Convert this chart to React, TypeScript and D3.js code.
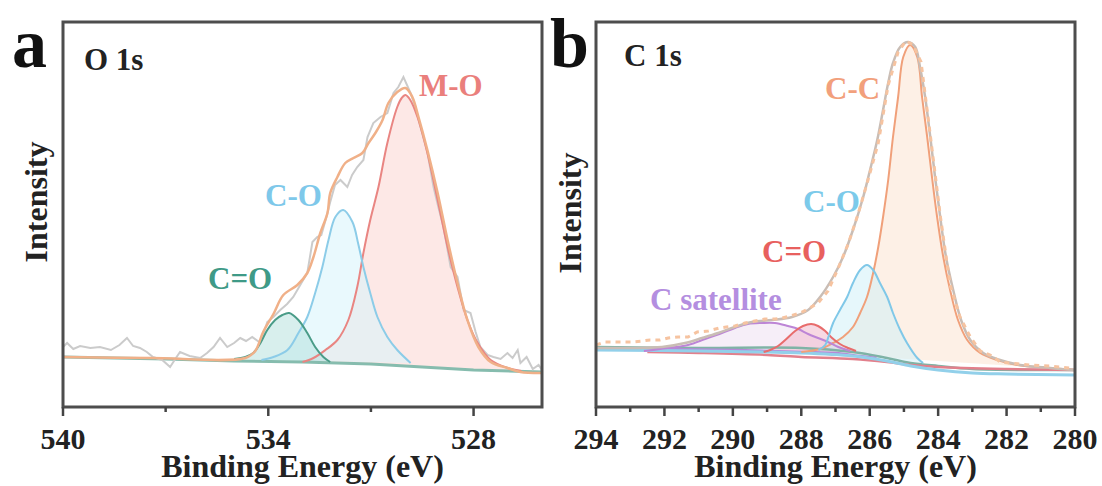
import React from 'react';
import * as d3 from 'd3';

type P = [number, number];

// ---------- Panel a : O 1s ----------
const oMajorTicks = [540, 534, 528];
const oMinorTicks = [537, 531];
const oBackground: P[] = [[540, 50], [537, 48], [535, 46], [533, 45], [531, 43], [529.5, 40], [528, 37], [526, 35]];
const oMO: P[] = [[533.0, 45], [532.68, 49], [532.33, 57], [531.98, 67], [531.66, 87], [531.40, 120], [531.22, 154], [531.02, 187], [530.78, 220], [530.52, 264], [530.23, 300], [530.1, 309], [529.99, 312], [529.85, 307], [529.64, 290], [529.35, 254], [529.05, 207], [528.76, 160], [528.47, 120], [528.18, 87], [527.88, 64], [527.5, 47], [527.0, 39], [526.6, 36]];
const oCO: P[] = [[534.2, 47], [533.85, 50], [533.44, 57], [533.12, 74], [532.86, 90], [532.63, 114], [532.42, 140], [532.24, 167], [532.04, 190], [531.81, 197], [531.54, 185], [531.37, 163], [531.22, 140], [531.02, 114], [530.81, 90], [530.52, 70], [530.23, 57], [529.84, 44]];
const oCeqO: P[] = [[535.0, 48], [534.67, 50], [534.44, 54], [534.23, 64], [534.03, 77], [533.8, 87], [533.59, 92], [533.39, 94], [533.12, 87], [532.86, 74], [532.63, 60], [532.39, 50], [532.19, 45]];
const oEnvelope: P[] = [[540, 50], [537.45, 49], [534.67, 49], [534.38, 56], [534.15, 75], [533.85, 93], [533.56, 112], [533.15, 122], [532.86, 134], [532.68, 150], [532.48, 174], [532.27, 194], [532.19, 214], [531.98, 230], [531.75, 244], [531.51, 249], [531.25, 254], [531.07, 264], [530.87, 274], [530.66, 287], [530.49, 304], [530.23, 315], [529.99, 319], [529.79, 310], [529.61, 290], [529.35, 257], [529.05, 214], [528.76, 167], [528.47, 124], [528.18, 87], [527.86, 60], [527.5, 45], [527.01, 39], [526.63, 35], [526.0, 34]];
const oRaw: P[] = [[540.0, 60], [539.88, 64], [539.7, 58], [539.5, 61], [539.2, 59], [538.92, 60], [538.6, 57], [538.35, 62], [538.13, 69], [537.95, 61], [537.75, 59], [537.55, 55], [537.37, 50], [537.1, 47], [536.87, 40], [536.7, 49], [536.58, 55], [536.3, 51], [535.99, 49], [535.79, 54], [535.6, 60], [535.41, 69], [535.2, 60], [535.0, 64], [534.82, 69], [534.65, 66], [534.47, 70], [534.23, 64], [534.03, 85], [533.85, 90], [533.65, 97], [533.45, 103], [533.27, 110], [533.1, 120], [532.86, 134], [532.71, 165], [532.57, 170], [532.45, 172], [532.3, 190], [532.19, 205], [532.05, 222], [531.89, 227], [531.69, 220], [531.55, 232], [531.4, 240], [531.22, 247], [531.1, 270], [530.93, 284], [530.72, 290], [530.52, 294], [530.34, 314], [530.2, 320], [530.05, 330], [529.84, 314], [529.7, 300], [529.55, 280], [529.35, 255], [529.17, 220], [529.03, 200], [528.88, 180], [528.67, 140], [528.47, 130], [528.29, 97], [528.09, 94], [527.94, 75], [527.8, 60], [527.59, 52], [527.42, 50], [527.21, 48], [527.01, 54], [526.86, 49], [526.71, 57], [526.63, 44], [526.45, 50], [526.27, 38], [526.1, 42], [526.0, 37]];

// ---------- Panel b : C 1s ----------
const cMajorTicks = [294, 292, 290, 288, 286, 284, 282, 280];
const cMinorTicks = [293, 291, 289, 287, 285, 283, 281];
const cBgTeal: P[] = [[294, 60], [291, 59], [288, 59], [286.5, 55], [285.5, 49], [284.8, 44], [284, 41], [283, 38], [280, 37]];
const cBgBlue: P[] = [[294, 57], [291, 56], [288, 54], [286.5, 51], [285.5, 46], [284.8, 41], [284, 37], [283, 34], [282, 33], [280, 32]];
const cBgRed: P[] = [[292.5, 55], [291, 54], [289, 52], [288, 50], [286.5, 48], [285.5, 45], [284.8, 42], [284, 40], [282, 38], [280, 37]];
const cBgPurple: P[] = [[292.5, 58], [290, 57], [288, 55], [287, 54], [286.3, 51], [285.8, 49]];
const cCC: P[] = [[288.0, 55], [287.45, 58], [287.07, 64], [286.78, 70], [286.49, 80], [286.28, 94], [286.08, 110], [285.9, 134], [285.75, 160], [285.61, 190], [285.46, 227], [285.32, 270], [285.17, 310], [285.02, 350], [284.82, 362], [284.61, 350], [284.47, 310], [284.32, 270], [284.18, 230], [284.03, 190], [283.85, 150], [283.65, 117], [283.42, 87], [283.15, 67], [282.77, 54], [282.27, 47], [281.69, 42], [280.73, 39], [280.0, 37]];
const cCO: P[] = [[287.5, 57], [287.3, 62], [287.19, 72], [287.07, 84], [286.87, 97], [286.66, 110], [286.49, 124], [286.28, 137], [286.08, 142], [285.9, 137], [285.7, 124], [285.49, 110], [285.32, 94], [285.11, 77], [284.91, 64], [284.61, 49], [284.44, 44]];
const cCeqO: P[] = [[289.1, 55], [288.91, 57], [288.68, 61], [288.47, 67], [288.18, 76], [287.95, 81], [287.71, 83], [287.51, 81], [287.3, 76], [287.1, 69], [286.87, 63], [286.63, 59], [286.4, 56]];
const cSat: P[] = [[292.6, 56], [292.13, 58], [291.31, 62], [290.81, 68], [290.32, 74], [289.94, 79], [289.56, 83], [289.15, 84], [288.77, 84], [288.39, 81], [288.09, 78], [287.8, 73], [287.51, 69], [287.22, 65], [286.92, 60], [286.57, 56]];
const cEnvelope: P[] = [[294.0, 59], [293.06, 59], [292.07, 60], [291.4, 64], [290.9, 69], [290.43, 74], [289.94, 80], [289.44, 85], [288.85, 87], [288.27, 90], [287.8, 97], [287.45, 110], [287.07, 130], [286.78, 150], [286.49, 177], [286.19, 210], [285.99, 237], [285.78, 267], [285.61, 297], [285.46, 324], [285.32, 344], [285.11, 360], [284.88, 365], [284.67, 360], [284.53, 340], [284.38, 310], [284.23, 270], [284.09, 230], [283.94, 190], [283.77, 150], [283.56, 117], [283.33, 87], [283.06, 67], [282.68, 54], [282.19, 47], [281.6, 42], [280.73, 39], [280.0, 37]];
const cRaw: P[] = [[294.0, 62], [293.74, 65], [293.44, 65], [292.95, 65], [292.65, 66], [292.42, 67], [292.13, 67], [291.89, 69], [291.6, 70], [291.31, 70], [291.04, 75], [290.72, 76], [290.39, 79], [290.19, 80], [289.94, 81], [289.65, 84], [289.36, 86], [289.06, 88], [288.77, 88], [288.56, 89], [288.33, 91], [288.04, 94], [287.8, 98], [287.51, 104], [287.22, 116], [286.93, 138], [286.63, 163], [286.34, 193], [286.05, 227], [285.75, 264], [285.46, 322], [285.17, 355], [284.94, 366], [284.73, 362], [284.5, 345], [284.23, 272], [283.94, 192], [283.65, 122], [283.36, 90], [283.06, 70], [282.77, 56], [282.48, 52], [282.18, 45], [281.89, 44], [281.6, 43], [281.3, 42], [280.73, 41], [280.15, 39]];

// ---------- layout ----------
const TOP = 22;
const BOTTOM = 407;
const FONT = 'Liberation Serif';
const yScale = d3.scaleLinear().domain([0, 385]).range([BOTTOM, TOP]);
const xA = d3.scaleLinear().domain([540, 526]).range([63, 542]);
const xB = d3.scaleLinear().domain([294, 280]).range([596, 1075]);

type Scale = d3.ScaleLinear<number, number>;

function smooth(x: Scale, pts: P[]): string {
  return d3.line<P>().x(d => x(d[0])).y(d => yScale(d[1])).curve(d3.curveCatmullRom.alpha(0.5))(pts) || '';
}
function straight(x: Scale, pts: P[]): string {
  return d3.line<P>().x(d => x(d[0])).y(d => yScale(d[1]))(pts) || '';
}

function T(props: { x?: number; y?: number; size: number; fill?: string; anchor?: string; transform?: string; children: React.ReactNode }) {
  return (
    <text x={props.x} y={props.y} transform={props.transform} fontFamily={FONT} fontWeight="bold" fontSize={props.size} fill={props.fill || '#222'} textAnchor={props.anchor || 'start'}>
      {props.children}
    </text>
  );
}

function Frame({ x, major, minor }: { x: Scale; major: number[]; minor: number[] }) {
  const [x0, x1] = x.range();
  return (
    <g>
      <rect x={x0} y={TOP} width={x1 - x0} height={BOTTOM - TOP} fill="none" stroke="#4d4d4d" strokeWidth={3} />
      {major.map(t => (
        <line key={'M' + t} x1={x(t)} x2={x(t)} y1={BOTTOM} y2={BOTTOM + 9} stroke="#444" strokeWidth={2.5} />
      ))}
      {minor.map(t => (
        <line key={'m' + t} x1={x(t)} x2={x(t)} y1={BOTTOM} y2={BOTTOM + 5} stroke="#444" strokeWidth={2.5} />
      ))}
      {major.map(t => (
        <T key={'L' + t} x={x(t)} y={449} size={30} anchor="middle">{String(t)}</T>
      ))}
      <T x={(x0 + x1) / 2} y={477} size={32} anchor="middle">Binding Energy (eV)</T>
    </g>
  );
}

export default function App() {
  return (
    <svg width={1102} height={486} fontFamily={FONT} style={{ position: 'absolute', left: 0, top: 0, background: '#fff', fontFamily: FONT }}>
      <rect width={1102} height={486} fill="#fff" />

      {/* Panel a */}
      <g>
        <path d={smooth(xA, oMO) + 'Z'} fill="#fbd9d6" fillOpacity={0.6} />
        <path d={smooth(xA, oCO) + 'Z'} fill="#d7f4fb" fillOpacity={0.55} />
        <path d={smooth(xA, oCeqO) + 'Z'} fill="#a8dbd6" fillOpacity={0.45} />
        <path d={straight(xA, oBackground)} fill="none" stroke="#86bcae" strokeWidth={3} />
        <path d={straight(xA, oRaw)} fill="none" stroke="#cbcbcb" strokeWidth={2} />
        <path d={smooth(xA, oMO)} fill="none" stroke="#e98582" strokeWidth={2} />
        <path d={smooth(xA, oCO)} fill="none" stroke="#8ccce8" strokeWidth={2} />
        <path d={smooth(xA, oCeqO)} fill="none" stroke="#4a9c88" strokeWidth={2} />
        <path d={smooth(xA, oEnvelope)} fill="none" stroke="#f0b088" strokeWidth={2.5} />
        <Frame x={xA} major={oMajorTicks} minor={oMinorTicks} />
        <T x={12} y={67} size={70} fill="#111">a</T>
        <T x={84} y={70} size={31}>O 1s</T>
        <T transform="translate(47,202) rotate(-90)" size={32} anchor="middle">Intensity</T>
        <T x={419} y={96} size={31} fill="#ea7f7c">M-O</T>
        <T x={265} y={206} size={31} fill="#7ec8ea">C-O</T>
        <T x={208} y={289} size={31} fill="#3f9a87">C=O</T>
      </g>

      {/* Panel b */}
      <g>
        <path d={smooth(xB, cCC) + 'Z'} fill="#fbe3d2" fillOpacity={0.55} />
        <path d={smooth(xB, cSat) + 'Z'} fill="#f0e3f3" fillOpacity={0.6} />
        <path d={smooth(xB, cCeqO) + 'Z'} fill="#efb3c8" fillOpacity={0.5} />
        <path d={smooth(xB, cCO) + 'Z'} fill="#cdeff8" fillOpacity={0.5} />
        <path d={smooth(xB, cBgTeal)} fill="none" stroke="#7fb3a6" strokeWidth={2.5} />
        <path d={smooth(xB, cBgPurple)} fill="none" stroke="#b58ad8" strokeWidth={2.5} />
        <path d={smooth(xB, cBgRed)} fill="none" stroke="#e2808c" strokeWidth={2.5} />
        <path d={smooth(xB, cBgBlue)} fill="none" stroke="#92d0ea" strokeWidth={3} />
        <path d={smooth(xB, cCC)} fill="none" stroke="#f0a07a" strokeWidth={2} />
        <path d={smooth(xB, cSat)} fill="none" stroke="#bd85d6" strokeWidth={2} />
        <path d={smooth(xB, cCeqO)} fill="none" stroke="#e86c6c" strokeWidth={2} />
        <path d={smooth(xB, cCO)} fill="none" stroke="#80c8e8" strokeWidth={2} />
        <path d={smooth(xB, cEnvelope)} fill="none" stroke="#c9bdb5" strokeWidth={2.5} />
        <path d={straight(xB, cRaw)} fill="none" stroke="#f6c3a0" strokeWidth={3} strokeDasharray="5 5" />
        <Frame x={xB} major={cMajorTicks} minor={cMinorTicks} />
        <T x={550} y={67} size={70} fill="#111">b</T>
        <T x={624} y={66} size={31}>C 1s</T>
        <T transform="translate(581,213) rotate(-90)" size={32} anchor="middle">Intensity</T>
        <T x={825} y={99} size={31} fill="#f2a07c">C-C</T>
        <T x={803} y={212} size={31} fill="#7ccaea">C-O</T>
        <T x={762} y={262} size={31} fill="#e8605e">C=O</T>
        <T x={650} y={310} size={31} fill="#b48ee0">C satellite</T>
      </g>
    </svg>
  );
}
